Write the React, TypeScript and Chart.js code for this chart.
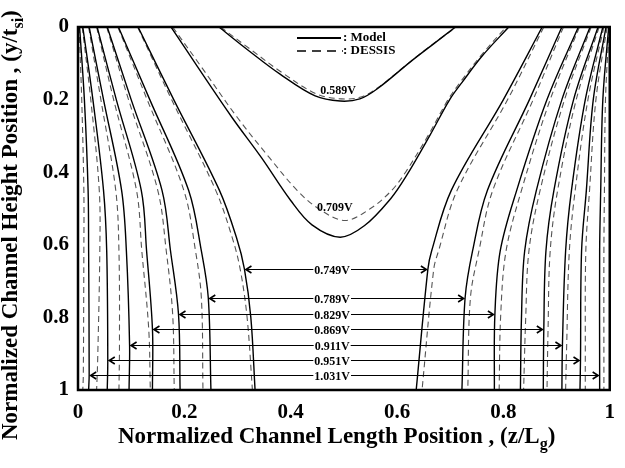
import React, { useEffect, useRef } from 'react';
import { Chart, registerables } from 'chart.js';

Chart.register(...registerables);

// ---------- axis ticks ----------
const xTickLabels = ['0', '0.2', '0.4', '0.6', '0.8', '1'];
const yTickLabels = ['0', '0.2', '0.4', '0.6', '0.8', '1'];

// ---------- closed (U-shaped) contours : [z/Lg, y/tsi] ----------
const model589 = [[0.265, 0], [0.32, 0.064], [0.38, 0.13], [0.446, 0.19], [0.493, 0.204], [0.53, 0.198], [0.563, 0.17], [0.625, 0.096], [0.67, 0.045], [0.71, 0]];
const dessis589 = [[0.268, 0], [0.323, 0.06], [0.383, 0.125], [0.448, 0.184], [0.495, 0.198], [0.532, 0.193], [0.566, 0.165], [0.628, 0.092], [0.672, 0.042], [0.712, 0]];
const model709 = [[0.175, 0], [0.225, 0.11], [0.29, 0.25], [0.345, 0.36], [0.4, 0.478], [0.44, 0.545], [0.493, 0.579], [0.539, 0.547], [0.588, 0.473], [0.618, 0.409], [0.662, 0.298], [0.699, 0.2], [0.723, 0.151], [0.76, 0.08], [0.81, 0]];
const dessis709 = [[0.178, 0], [0.232, 0.11], [0.3, 0.25], [0.36, 0.36], [0.412, 0.45], [0.452, 0.5], [0.502, 0.533], [0.55, 0.5], [0.59, 0.45], [0.616, 0.4], [0.658, 0.3], [0.696, 0.2], [0.72, 0.15], [0.757, 0.08], [0.805, 0]];

// ---------- source-side (left) branches, Model ----------
const modelL749 = [[0.113, 0], [0.18, 0.2], [0.266, 0.45], [0.298, 0.58], [0.313, 0.667], [0.325, 0.8], [0.333, 1]];
const modelL789 = [[0.076, 0], [0.135, 0.2], [0.208, 0.45], [0.232, 0.617], [0.245, 0.746], [0.25, 1]];
const modelL829 = [[0.055, 0], [0.1, 0.2], [0.158, 0.45], [0.174, 0.617], [0.189, 0.791], [0.192, 1]];
const modelL869 = [[0.036, 0], [0.072, 0.2], [0.119, 0.45], [0.129, 0.617], [0.14, 0.832], [0.14, 1]];
const modelL911 = [[0.021, 0], [0.048, 0.2], [0.082, 0.45], [0.091, 0.617], [0.097, 0.876], [0.096, 1]];
const modelL951 = [[0.009, 0], [0.028, 0.2], [0.048, 0.45], [0.054, 0.617], [0.056, 0.917], [0.055, 1]];
const modelL1031 = [[0.003, 0], [0.012, 0.2], [0.019, 0.45], [0.02, 0.617], [0.021, 0.959], [0.02, 1]];

// ---------- source-side (left) branches, DESSIS ----------
const dessisL749 = [[0.112, 0], [0.176, 0.2], [0.259, 0.45], [0.29, 0.58], [0.305, 0.667], [0.318, 0.8], [0.328, 1]];
const dessisL789 = [[0.075, 0], [0.13, 0.2], [0.199, 0.45], [0.221, 0.617], [0.232, 0.746], [0.235, 1]];
const dessisL829 = [[0.054, 0], [0.095, 0.2], [0.15, 0.45], [0.166, 0.617], [0.178, 0.791], [0.181, 1]];
const dessisL869 = [[0.035, 0], [0.067, 0.2], [0.11, 0.45], [0.12, 0.617], [0.133, 0.832], [0.136, 1]];
const dessisL911 = [[0.02, 0], [0.043, 0.2], [0.071, 0.45], [0.077, 0.617], [0.078, 0.876], [0.077, 1]];
const dessisL951 = [[0.008, 0], [0.024, 0.2], [0.04, 0.45], [0.041, 0.617], [0.037, 0.917], [0.035, 1]];
const dessisL1031 = [[0.002, 0], [0.007, 0.2], [0.011, 0.45], [0.011, 0.617], [0.01, 0.959], [0.009, 1]];

// ---------- drain-side (right) branches, Model ----------
const modelR749 = [[0.873, 0], [0.8, 0.2], [0.702, 0.45], [0.665, 0.617], [0.658, 0.667], [0.636, 1]];
const modelR789 = [[0.91, 0], [0.849, 0.2], [0.77, 0.45], [0.742, 0.617], [0.728, 0.746], [0.722, 1]];
const modelR829 = [[0.941, 0], [0.882, 0.2], [0.825, 0.45], [0.794, 0.617], [0.784, 0.791], [0.783, 1]];
const modelR849 = [[0.963, 0], [0.91, 0.2], [0.862, 0.45], [0.84, 0.617], [0.834, 0.8], [0.832, 1]];
const modelR869 = [[0.978, 0], [0.932, 0.2], [0.895, 0.45], [0.88, 0.617], [0.876, 0.832], [0.875, 1]];
const modelR911 = [[0.987, 0], [0.954, 0.2], [0.928, 0.45], [0.917, 0.617], [0.911, 0.876], [0.91, 1]];
const modelR951 = [[0.993, 0], [0.969, 0.2], [0.956, 0.45], [0.947, 0.617], [0.945, 0.917], [0.944, 1]];
const modelR1031 = [[0.998, 0], [0.987, 0.2], [0.983, 0.45], [0.981, 0.617], [0.981, 0.959], [0.981, 1]];

// ---------- drain-side (right) branches, DESSIS ----------
const dessisR749 = [[0.876, 0], [0.808, 0.2], [0.713, 0.45], [0.678, 0.617], [0.669, 0.667], [0.647, 1]];
const dessisR789 = [[0.913, 0], [0.856, 0.2], [0.78, 0.45], [0.754, 0.617], [0.738, 0.746], [0.733, 1]];
const dessisR829 = [[0.943, 0], [0.888, 0.2], [0.834, 0.45], [0.805, 0.617], [0.795, 0.791], [0.792, 1]];
const dessisR849 = [[0.965, 0], [0.915, 0.2], [0.869, 0.45], [0.848, 0.617], [0.842, 0.8], [0.838, 1]];
const dessisR869 = [[0.98, 0], [0.937, 0.2], [0.902, 0.45], [0.888, 0.617], [0.884, 0.832], [0.882, 1]];
const dessisR911 = [[0.989, 0], [0.959, 0.2], [0.935, 0.45], [0.924, 0.617], [0.919, 0.876], [0.917, 1]];
const dessisR951 = [[0.995, 0], [0.974, 0.2], [0.962, 0.45], [0.955, 0.617], [0.954, 0.917], [0.954, 1]];
const dessisR1031 = [[0.999, 0], [0.992, 0.2], [0.99, 0.45], [0.989, 0.617], [0.989, 0.959], [0.989, 1]];

// ---------- annotations ----------
const arrowLabels = ['0.749V', '0.789V', '0.829V', '0.869V', '0.911V', '0.951V', '1.031V'];
const arrowY = [0.667, 0.746, 0.791, 0.832, 0.876, 0.917, 0.959];
const arrowLeftX = [0.313, 0.245, 0.189, 0.14, 0.097, 0.056, 0.021];
const arrowRightX = [0.658, 0.728, 0.784, 0.876, 0.911, 0.945, 0.981];
const arrowLabelX = 0.478;
const curveLabels = ['0.589V', '0.709V'];
const curveLabelX = [0.489, 0.483];
const curveLabelY = [0.176, 0.499];

const modelCurves = [model589, model709, modelL749, modelL789, modelL829, modelL869, modelL911, modelL951, modelL1031,
  modelR749, modelR789, modelR829, modelR849, modelR869, modelR911, modelR951, modelR1031];
const dessisCurves = [dessis589, dessis709, dessisL749, dessisL789, dessisL829, dessisL869, dessisL911, dessisL951, dessisL1031,
  dessisR749, dessisR789, dessisR829, dessisR849, dessisR869, dessisR911, dessisR951, dessisR1031];

const SERIF = '"Liberation Serif", "Times New Roman", serif';

function drawParts(ctx: CanvasRenderingContext2D, parts: { t: string; sub?: boolean }[], x0: number, y0: number, size: number) {
  let x = x0;
  for (const p of parts) {
    const s = p.sub ? Math.round(size * 0.68) : size;
    ctx.font = `bold ${s}px ${SERIF}`;
    ctx.fillText(p.t, x, p.sub ? y0 + size * 0.28 : y0);
    x += ctx.measureText(p.t).width;
  }
}

const overlay = {
  id: 'overlay',
  afterDatasetsDraw(chart: any) {
    const { ctx, chartArea } = chart;
    const xs = chart.scales.x;
    const ys = chart.scales.y;
    ctx.save();
    ctx.strokeStyle = '#000';
    ctx.fillStyle = '#000';
    arrowY.forEach((v, i) => {
      const py = Math.round(ys.getPixelForValue(v)) + 0.5;
      const lx = xs.getPixelForValue(arrowLeftX[i]) + 1;
      const rx = xs.getPixelForValue(arrowRightX[i]) - 1;
      ctx.lineWidth = 1;
      ctx.beginPath();
      ctx.moveTo(lx, py);
      ctx.lineTo(rx, py);
      ctx.stroke();
      ctx.lineWidth = 1.6;
      ctx.beginPath();
      ctx.moveTo(lx + 6, py - 3.5);
      ctx.lineTo(lx + 0.5, py);
      ctx.lineTo(lx + 6, py + 3.5);
      ctx.moveTo(rx - 6, py - 3.5);
      ctx.lineTo(rx - 0.5, py);
      ctx.lineTo(rx - 6, py + 3.5);
      ctx.stroke();
      ctx.font = `bold 12px ${SERIF}`;
      const t = arrowLabels[i];
      const w = ctx.measureText(t).width;
      const cx = xs.getPixelForValue(arrowLabelX);
      ctx.fillStyle = '#fff';
      ctx.fillRect(cx - w / 2 - 1, py - 5, w + 2, 10);
      ctx.fillStyle = '#000';
      ctx.textAlign = 'center';
      ctx.textBaseline = 'middle';
      ctx.fillText(t, cx, py + 1);
    });
    ctx.font = `bold 12px ${SERIF}`;
    ctx.textAlign = 'center';
    ctx.textBaseline = 'middle';
    curveLabels.forEach((t, i) => {
      ctx.fillText(t, xs.getPixelForValue(curveLabelX[i]), ys.getPixelForValue(curveLabelY[i]));
    });
    // legend
    const lx0 = 297, lx1 = 341;
    ctx.lineWidth = 2;
    ctx.beginPath();
    ctx.moveTo(lx0, 38);
    ctx.lineTo(lx1, 38);
    ctx.stroke();
    ctx.setLineDash([9, 6]);
    ctx.lineWidth = 1.5;
    ctx.beginPath();
    ctx.moveTo(lx0, 51);
    ctx.lineTo(lx1 + 2, 51);
    ctx.stroke();
    ctx.setLineDash([]);
    ctx.textAlign = 'left';
    ctx.textBaseline = 'middle';
    ctx.font = `bold 13px ${SERIF}`;
    ctx.fillText(': Model', 343, 38);
    ctx.fillText(': DESSIS', 343, 51);
    // frame
    ctx.lineWidth = 2.5;
    ctx.strokeRect(chartArea.left, chartArea.top, chartArea.right - chartArea.left, chartArea.bottom - chartArea.top);
    ctx.restore();
  },
  afterDraw(chart: any) {
    const { ctx } = chart;
    ctx.save();
    ctx.fillStyle = '#000';
    ctx.textAlign = 'left';
    ctx.textBaseline = 'alphabetic';
    drawParts(ctx, [{ t: 'Normalized Channel Length Position , (z/L' }, { t: 'g', sub: true }, { t: ')' }], 118, 443, 23);
    ctx.translate(17, 440);
    ctx.rotate(-Math.PI / 2);
    drawParts(ctx, [{ t: 'Normalized Channel Height Position , (y/t' }, { t: 'si', sub: true }, { t: ')' }], 0, 0, 23);
    ctx.restore();
  },
};

export default function App() {
  const ref = useRef<HTMLCanvasElement>(null);
  useEffect(() => {
    if (!ref.current) return;
    const toPts = (c: number[][]) => c.map(([x, y]) => ({ x, y }));
    const datasets: any[] = [];
    modelCurves.forEach((c) => datasets.push({
      data: toPts(c), showLine: true, borderColor: '#000', borderWidth: 1.4, pointRadius: 0, tension: 0.35, fill: false,
    }));
    dessisCurves.forEach((c) => datasets.push({
      data: toPts(c), showLine: true, borderColor: '#555', borderWidth: 1.1, borderDash: [6, 4], pointRadius: 0, tension: 0.35, fill: false,
    }));
    const tickFont = { family: SERIF, size: 21, weight: 'bold' as const };
    const chart = new Chart(ref.current, {
      type: 'scatter',
      data: { datasets },
      options: {
        animation: false,
        responsive: false,
        devicePixelRatio: 1,
        layout: { padding: { top: 27, right: 3, left: 0, bottom: 0 } },
        plugins: { legend: { display: false }, tooltip: { enabled: false } },
        scales: {
          x: {
            type: 'linear', min: 0, max: 1,
            grid: { display: false, drawTicks: false },
            border: { display: false },
            ticks: { stepSize: 0.2, autoSkip: false, maxRotation: 0, padding: 10, color: '#000', font: tickFont,
              callback: (v: any) => xTickLabels[Math.round(Number(v) / 0.2)] },
            afterFit: (s: any) => { s.height = 78; },
          },
          y: {
            type: 'linear', min: 0, max: 1, reverse: true,
            grid: { display: false, drawTicks: false },
            border: { display: false },
            ticks: { stepSize: 0.2, autoSkip: false, padding: 9, color: '#000', font: tickFont,
              callback: (v: any) => yTickLabels[Math.round(Number(v) / 0.2)] },
            afterFit: (s: any) => { s.width = 78; },
          },
        },
      },
      plugins: [overlay],
    });
    return () => chart.destroy();
  }, []);
  return (
    <div style={{ position: 'absolute', left: 0, top: 0, width: 625, height: 468, background: '#fff' }}>
      <canvas ref={ref} width={625} height={468} style={{ width: 625, height: 468, display: 'block' }} />
    </div>
  );
}
